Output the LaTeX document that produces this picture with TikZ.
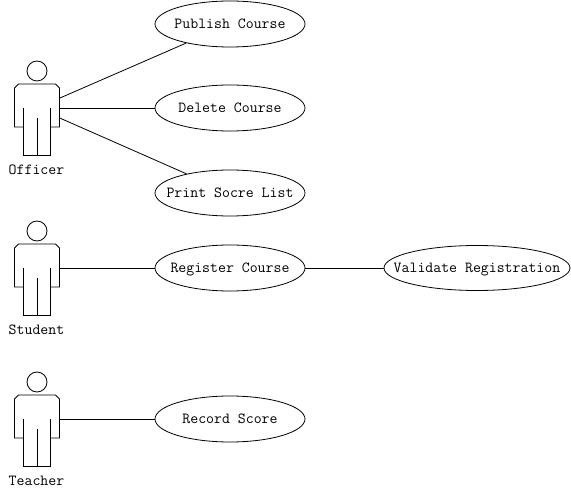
\documentclass[tikz,border=0pt]{standalone}
\usetikzlibrary{shapes.geometric}
\newcommand{\uctext}[1]{\makebox[0pt]{\raisebox{\dimexpr-0.5ex-1.5pt\relax}[0pt][0pt]{#1}}}
\tikzset{
  every path/.style={line width=0.8pt,color=black},
  uc/.style={draw,ellipse,minimum width=150pt,minimum height=46pt,inner sep=0pt,font=\fontsize{15.4}{16}\ttfamily},
  ucwide/.style={uc,minimum width=186pt,minimum height=45pt},
  actorbox/.style={draw=none,rectangle,minimum width=45pt,minimum height=48pt,inner sep=0pt},
  actorname/.style={font=\fontsize{15.4}{16}\ttfamily,inner sep=0pt},
  assoc/.style={draw}
}
\newcommand{\actorfig}[3]{% name, y of head centre, label
  \begin{scope}[shift={(37,#2)}]
    \draw (0,0) circle (10);
    \draw (-13.5,56) -- (-22.5,56) -- (-22.5,17) -- (-18.5,13) -- (18.5,13) -- (22.5,17) -- (22.5,56) -- (13.5,56);
    \draw (-13.5,37) -- (-13.5,84.5) -- (13.5,84.5) -- (13.5,37);
    \draw (0,47) -- (0,84.5);
    \node[actorbox] (#1) at (0,37) {};
    \node[actorname] (#1label) at (-0.5,99) {#3};
  \end{scope}
}
\begin{document}
\begin{tikzpicture}[x=1pt,y=-1pt]
\useasboundingbox (0,0) rectangle (571,497);
\actorfig{officer}{71}{Officer}
\actorfig{student}{231}{Student}
\actorfig{teacher}{382}{Teacher}
\node[uc] (publish) at (230,24) {\uctext{Publish Course}};
\node[uc] (delete) at (230,108) {\uctext{Delete Course}};
\node[uc] (print) at (230,193) {\uctext{Print Socre List}};
\node[uc] (register) at (230,268) {\uctext{Register Course}};
\node[ucwide] (validate) at (477,268) {\uctext{Validate Registration}};
\node[uc] (record) at (230,419) {\uctext{Record Score}};
\draw[assoc] (officer) -- (publish);
\draw[assoc] (officer) -- (delete);
\draw[assoc] (officer) -- (print);
\draw[assoc] (student) -- (register);
\draw[assoc] (register) -- (validate);
\draw[assoc] (teacher) -- (record);
\end{tikzpicture}
\end{document}
